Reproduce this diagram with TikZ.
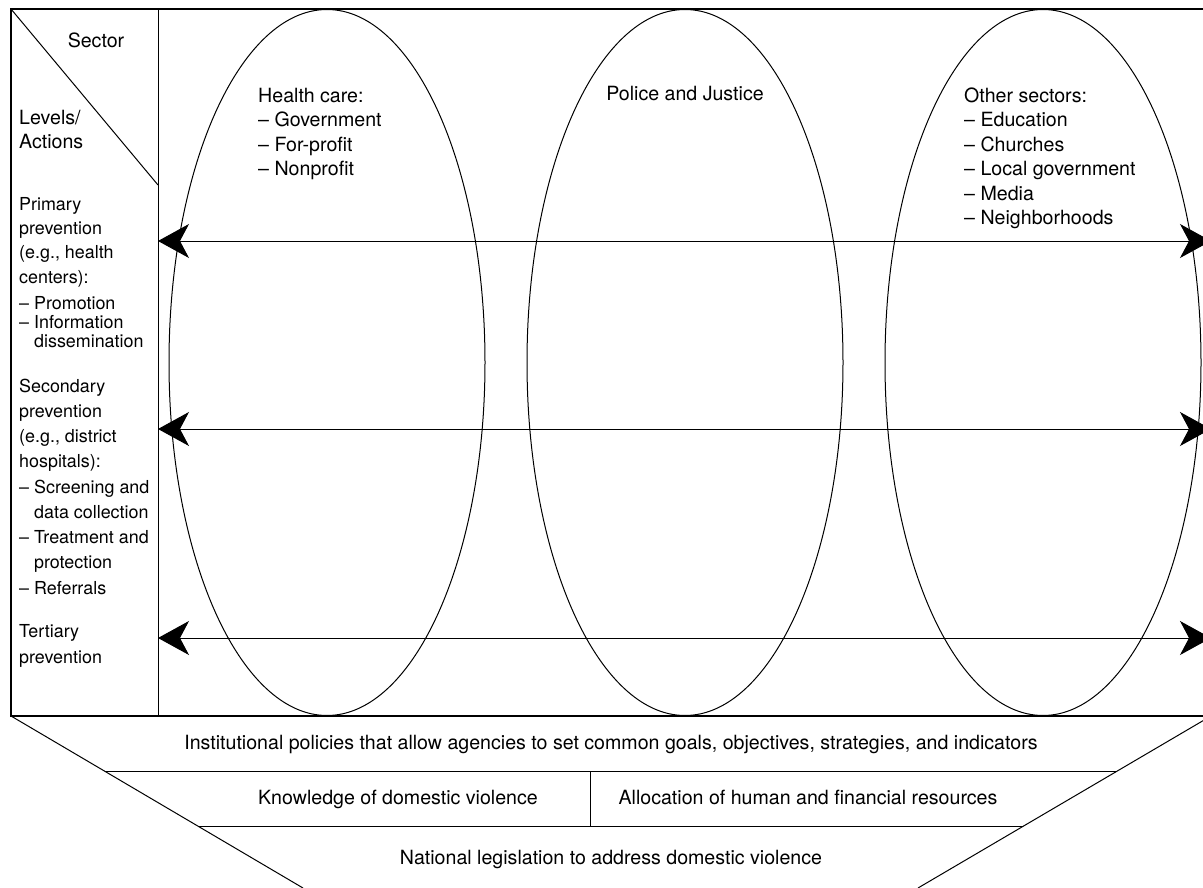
\documentclass[tikz,border=0pt]{standalone}
\usepackage{fontspec}
\setmainfont{TeX Gyre Heros}
\usetikzlibrary{arrows.meta}
\usetikzlibrary{shapes.geometric}
\usetikzlibrary{positioning}

\begin{document}
\begin{tikzpicture}[x=1pt,y=-1pt]
  \tikzset{sector/.style = {shape=ellipse,draw,line width=1pt,minimum width=316pt,minimum height=706pt,inner sep=0pt}}
  \tikzset{txt/.style = {inner sep=0pt,align=left,font=\fontsize{19.6}{24.5}\selectfont}}
  \tikzset{lvltxt/.style = {txt,font=\fontsize{17.9}{24.3}\selectfont}}
  \tikzset{tight/.style = {txt,font=\fontsize{17.9}{18.7}\selectfont}}
  \tikzset{loose/.style = {txt,font=\fontsize{17.9}{25.25}\selectfont}}
  \tikzset{edge/.style = {{Stealth[length=31pt,width=34pt,inset=9pt]}-{Stealth[length=31pt,width=34pt,inset=9pt]},line width=1pt}}
  \tikzset{frame/.style = {line width=1.3pt}}

  \useasboundingbox (0,0) rectangle (1203,888);

  % table frame
  \coordinate (tl) at (11,9);
  \coordinate (br) at (1211,716);
  \coordinate (bl) at (11,716);
  \coordinate (ct) at (158,9);
  \coordinate (cb) at (158,716);
  \coordinate (cd) at (158,185);
  \draw[frame] (tl) rectangle (br);
  \draw[line width=1pt] (ct) -- (cb);
  \draw[line width=1pt] (tl) -- (cd);

  % sectors
  \node[sector] (hc) at (327,362.5) {};
  \node[sector] (pj) at (685,362.5) {};
  \node[sector] (os) at (1043,362.5) {};

  % base anchor sits on the last line
  \node[txt,anchor=base west] (hctxt) at (258,175.5) {Health care:\\– Government\\– For-profit\\– Nonprofit};
  \node[txt,anchor=base] (pjtxt) at (685,101) {Police and Justice};
  \node[txt,anchor=base west] (ostxt) at (964,224.5) {Other sectors:\\– Education\\– Churches\\– Local government\\– Media\\– Neighborhoods};

  % levels column
  \node[txt,anchor=base] (sec) at (96,48) {Sector};
  \node[txt,anchor=base west] (lvl) at (19,149) {Levels/\\Actions};
  \node[lvltxt,anchor=base west] (prim) at (19,283) {Primary\\prevention\\(e.g., health\\centers):};
  \node[tight,anchor=base west] (primact) at (19,347) {– Promotion\\– Information\\\phantom{– }dissemination};
  \node[loose,anchor=base west] (scnd) at (19,594) {Secondary\\prevention\\(e.g., district\\hospitals):\\– Screening and\\\phantom{– }data collection\\– Treatment and\\\phantom{– }protection\\– Referrals};
  \node[loose,anchor=base west] (tert) at (19,663) {Tertiary\\prevention};

  % links across sectors
  \coordinate (p1l) at (158,241);
  \coordinate (p1r) at (1211,241);
  \coordinate (p2l) at (158,429);
  \coordinate (p2r) at (1211,429);
  \coordinate (p3l) at (158,638);
  \coordinate (p3r) at (1211,638);
  \draw[edge] (p1l) -- (p1r);
  \draw[edge] (p2l) -- (p2r);
  \draw[edge] (p3l) -- (p3r);

  % base
  \coordinate (fl) at (303,888);
  \coordinate (fr) at (918,888);
  \coordinate (r1l) at (105,771);
  \coordinate (r1r) at (1117,771);
  \coordinate (r2l) at (199,826);
  \coordinate (r2r) at (1023,826);
  \coordinate (dt) at (590,771);
  \coordinate (db) at (590,826);
  \draw[line width=1pt] (bl) -- (fl);
  \draw[line width=1pt] (br) -- (fr);
  \draw[line width=1pt] (r1l) -- (r1r);
  \draw[line width=1pt] (r2l) -- (r2r);
  \draw[line width=1pt] (dt) -- (db);

  \node[txt,anchor=base] (inst) at (611,749) {Institutional policies that allow agencies to set common goals, objectives, strategies, and indicators};
  \node[txt,anchor=base] (know) at (398,804) {Knowledge of domestic violence};
  \node[txt,anchor=base] (alloc) at (808,804) {Allocation of human and financial resources};
  \node[txt,anchor=base] (law) at (611,864) {National legislation to address domestic violence};

\end{tikzpicture}
\end{document}
